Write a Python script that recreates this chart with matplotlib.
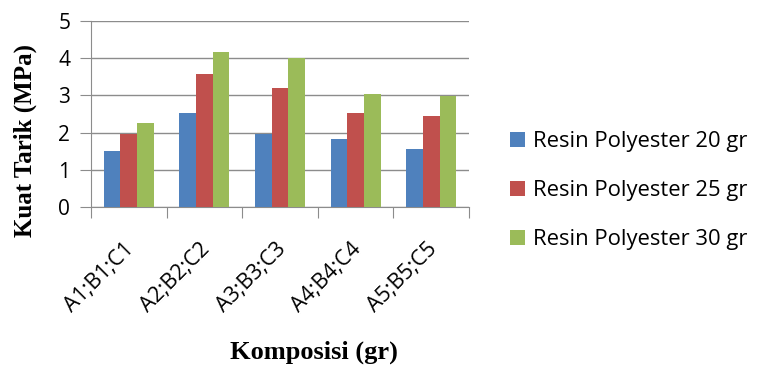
import matplotlib.pyplot as plt
import matplotlib.transforms as mtransforms
import numpy as np

# data kuat tarik per komposisi
komposisi = ['A1;B1;C1', 'A2;B2;C2', 'A3;B3;C3', 'A4;B4;C4', 'A5;B5;C5']
resin20 = [1.50, 2.54, 1.95, 1.82, 1.57]
resin25 = [1.95, 3.57, 3.19, 2.54, 2.46]
resin30 = [2.26, 4.16, 4.01, 3.05, 2.99]
label_seri = ['Resin Polyester 20 gr', 'Resin Polyester 25 gr', 'Resin Polyester 30 gr']
warna = ['#4F81BD', '#C0504D', '#9BBB59']
huruf = 'Open Sans'

fig = plt.figure(figsize=(7.61, 3.72), dpi=100)
ax = fig.add_axes([0.1196, 0.4435, 0.4967, 0.5])

x = np.arange(len(komposisi))
lebar = 0.22
for i, (nilai, lbl) in enumerate(zip([resin20, resin25, resin30], label_seri)):
    ax.bar(x + (i - 1) * lebar, nilai, lebar, color=warna[i], label=lbl, zorder=3)

ax.set_xlim(-0.5, len(komposisi) - 0.5)
ax.set_ylim(0, 5)
ax.set_yticks(range(6))
ax.yaxis.grid(True, color='#8c8c8c', linewidth=1, zorder=0)

# tick x di batas antar kelompok, label di tengah
ax.set_xticks(np.arange(-0.5, len(komposisi)), minor=False)
ax.set_xticklabels([])
ax.set_xticks(x, minor=True)
ax.set_xticklabels(komposisi, minor=True, rotation=45, ha='right',
                   rotation_mode='anchor', fontsize=15.5, family=huruf)
ax.tick_params(axis='x', which='minor', length=0, pad=12)
ax.tick_params(axis='x', which='major', length=8, color='#8c8c8c')
ax.tick_params(axis='y', length=8, color='#8c8c8c', labelsize=15, pad=7)
for t in ax.get_yticklabels():
    t.set_family(huruf)
# geser label x sedikit ke kiri bawah
geser = mtransforms.ScaledTranslation(-5 / 100, -15 / 100, fig.dpi_scale_trans)
for t in ax.get_xticklabels(minor=True):
    t.set_transform(t.get_transform() + geser)

for s in ['top', 'right']:
    ax.spines[s].set_visible(False)
for s in ['left', 'bottom']:
    ax.spines[s].set_color('#8c8c8c')

fig.text(0.033, 0.622, 'Kuat Tarik (MPa)', rotation=90, ha='center', va='center',
         family='Liberation Serif', weight='bold', fontsize=18)
fig.text(0.413, 0.052, 'Komposisi (gr)', ha='center', va='center',
         family='Liberation Serif', weight='bold', fontsize=19)

leg = fig.legend(loc='center left', bbox_to_anchor=(0.644, 0.487), frameon=False,
                 prop={'family': huruf, 'size': 15.8}, handlelength=0.7,
                 handleheight=0.7, handletextpad=0.35, labelspacing=1.27)

plt.savefig('out.png', dpi=100)
